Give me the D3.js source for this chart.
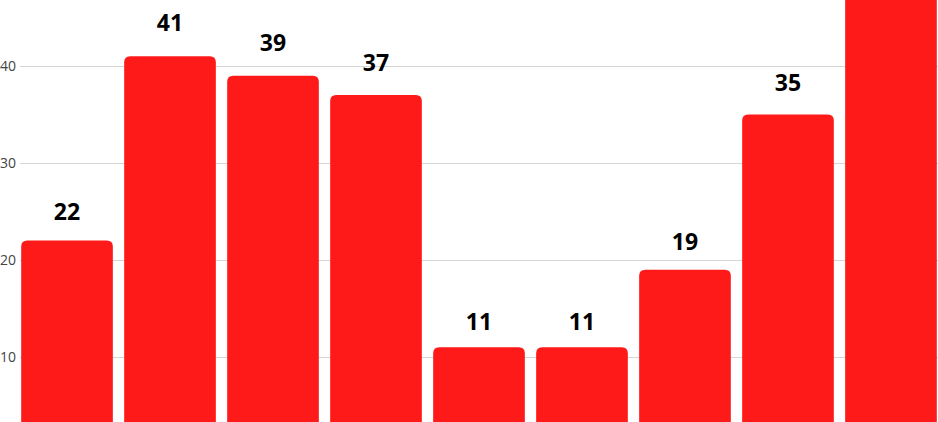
<!DOCTYPE html>
<html>
<head>
<meta charset="utf-8">
<script src="https://cdn.jsdelivr.net/npm/d3@7"></script>
<style>
  body { margin: 0; background: #fff; overflow: hidden; }
  .tick text { font-family: "Open Sans", sans-serif; font-size: 14px; fill: #444; }
</style>
</head>
<body>
<div id="chart"></div>
<script>
// data (x labels are cropped out, last bar's top is cut off)
var categories = ["c1", "c2", "c3", "c4", "c5", "c6", "c7", "c8", "c9"];
var values = [22, 41, 39, 37, 11, 11, 19, 35, 55];
var tickValues = [10, 20, 30, 40];

var svgWidth = 938;
var svgHeight = 422;

var svg = d3.select("#chart")
  .append("svg")
  .attr("width", svgWidth)
  .attr("height", svgHeight);

var x = d3.scaleBand()
  .domain(categories)
  .range([15, 943])
  .paddingInner(0.11)
  .paddingOuter(0.06);

// 0 sits below the visible area
var y = d3.scaleLinear()
  .domain([0, 40])
  .range([454, 66]);

// gridlines + tick labels
var leftAxis = d3.axisLeft(y)
  .tickValues(tickValues)
  .tickSize(-(svgWidth - 20))
  .tickPadding(4);

svg.append("g")
  .attr("transform", "translate(20,0)")
  .call(leftAxis)
  .call(g => g.select(".domain").remove())
  .call(g => g.selectAll(".tick line").attr("stroke", "#d6d6d6"));

// bars with rounded top corners
function barPath(x0, y0, w, h, r) {
  return `M${x0},${y0 + h} V${y0 + r} Q${x0},${y0} ${x0 + r},${y0} H${x0 + w - r} Q${x0 + w},${y0} ${x0 + w},${y0 + r} V${y0 + h} Z`;
}

svg.append("g").selectAll("path")
  .data(values)
  .enter()
  .append("path")
  .attr("d", (d, i) => barPath(x(categories[i]), y(d), x.bandwidth(), y(0) - y(d), 6))
  .attr("fill", "#ff1a1a");

// value labels
svg.append("g").selectAll("text")
  .data(values)
  .enter()
  .append("text")
  .attr("x", (d, i) => x(categories[i]) + x.bandwidth() / 2)
  .attr("y", d => y(d) - 14 - 0.28 * d)
  .attr("text-anchor", "middle")
  .attr("font-family", "Open Sans, sans-serif")
  .attr("font-weight", "bold")
  .attr("font-size", "23px")
  .attr("fill", "#000")
  .text(d => d);
</script>
</body>
</html>
